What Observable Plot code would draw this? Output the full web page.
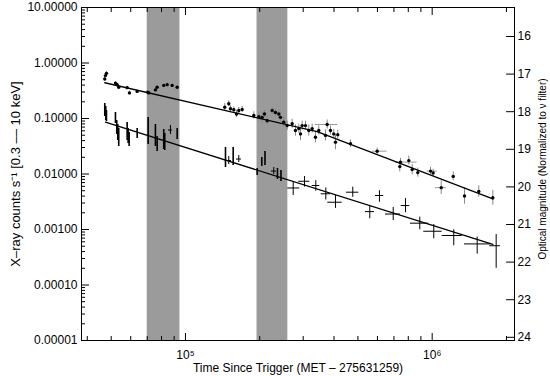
<!DOCTYPE html>
<html><head><meta charset="utf-8">
<script src="https://cdn.jsdelivr.net/npm/d3@7"></script>
<script src="https://cdn.jsdelivr.net/npm/@observablehq/plot@0.6"></script>
<style>body{margin:0;background:#fff}</style>
</head><body>
<script>
// ---- Data ----
// Gaps (shaded bands), seconds since trigger
const bandStart = [70000, 195000];
const bandEnd = [95000, 260000];

// X-ray light curve (counts/s, 0.3-10 keV)
const xrayTime = [47090, 47530, 47840, 52030, 52660, 53160, 53650, 58030, 58570, 59120, 63720, 70620, 75560, 76770, 81660, 82430, 86930, 92550, 145300, 149800, 156100, 164500, 195300, 203900, 210100, 228000, 236000, 243800, 273300, 303700, 337500, 370600, 405500, 476600, 558500, 611400, 695100, 779700, 890800, 1015000, 1223000, 1522000, 1817000];
const xrayTimeLo = [null, null, null, null, null, null, null, null, null, null, null, null, null, null, null, null, 85330, null, null, 146600, null, 161000, null, null, null, 223200, null, null, 259800, 287900, 326300, 354900, 377500, 449500, 536500, 589000, 646600, 748900, 816600, 924600, 1098000, 1352000, 1712000];
const xrayTimeHi = [null, null, null, null, null, null, null, null, null, null, null, null, null, null, null, null, 88580, null, null, 153600, null, 168700, null, null, null, 233800, null, null, 290600, 319100, 350300, 387100, 431800, 504000, 583500, 636400, 744100, 811500, 968800, 1098000, 1323000, 1723000, 1892000];
const xrayRate = [0.145, 0.123, 0.113, 0.104, 0.0688, 0.0559, 0.0455, 0.0583, 0.0474, 0.0418, 0.0537, 0.0608, 0.0494, 0.0354, 0.0418, 0.0385, 0.0620, 0.0526, 0.0198, 0.0175, 0.0207, 0.0186, 0.0109, 0.0164, 0.0190, 0.0113, 0.0102, 0.0094, 0.0056, 0.0074, 0.0062, 0.0044, 0.0031, 0.0047, 0.0021, 0.0041, 0.0019, 0.0027, 0.00130, 0.00093, 0.00078, 0.00055, 0.00051];
const xrayRateLo = [0.1086, 0.0920, 0.0883, 0.0813, 0.0515, 0.0401, 0.0313, 0.0401, 0.0354, 0.0313, 0.0436, 0.0340, 0.0313, 0.0254, 0.0276, 0.0265, 0.0515, 0.0418, 0.0131, 0.0148, 0.0142, 0.0161, 0.0094, 0.0137, 0.0142, 0.0098, 0.0080, 0.0073, 0.0041, 0.0058, 0.0049, 0.0034, 0.0024, 0.0038, 0.00156, 0.0031, 0.00145, 0.0020, 0.00099, 0.00068, 0.00051, 0.00036, 0.00020];
const xrayRateHi = [0.1863, 0.1645, 0.1393, 0.1282, 0.0920, 0.0780, 0.0660, 0.0847, 0.0660, 0.0559, 0.0660, 0.1042, 0.0780, 0.0474, 0.0634, 0.0537, 0.0748, 0.0660, 0.0300, 0.0207, 0.0300, 0.0215, 0.0126, 0.0198, 0.0254, 0.0131, 0.0126, 0.0116, 0.0071, 0.0090, 0.0076, 0.0056, 0.0041, 0.0058, 0.0027, 0.0050, 0.0025, 0.0036, 0.00167, 0.00123, 0.00099, 0.00073, 0.00081];

// X-ray power-law fit
const xrayFitTime = [47390, 1761000];
const xrayFitRate = [0.0858, 0.000537];

// Optical light curve (magnitudes, normalized to v filter)
const optTime = [47090, 47390, 47840, 52030, 52850, 53650, 58030, 59290, 63720, 70360, 71010, 75560, 76770, 81660, 84300, 88330, 92550, 144300, 149800, 152200, 157000, 161000, 164500, 169800, 189200, 198200, 204600, 209100, 214400, 224600, 231600, 238900, 242700, 250300, 258400, 270700, 279200, 288000, 292600, 297200, 306500, 316100, 326300, 336500, 347000, 369400, 375300, 387100, 399200, 405500, 414300, 466600, 598500, 739000, 743900, 803900, 829800, 874300, 984200, 1009000, 1088000, 1217000, 1352000, 1545000, 1761000];
const optMag = [17.13, 17.04, 16.98, 17.24, 17.28, 17.35, 17.36, 17.50, 17.46, 17.48, 17.50, 17.42, 17.35, 17.30, 17.28, 17.30, 17.35, 17.88, 17.79, 17.92, 17.95, 18.06, 17.97, 17.94, 18.10, 18.13, 18.15, 18.06, 18.24, 17.97, 18.02, 18.06, 18.15, 18.28, 18.37, 18.32, 18.50, 18.45, 18.59, 18.37, 18.37, 18.50, 18.45, 18.68, 18.50, 18.63, 18.34, 18.50, 18.59, 18.81, 18.61, 18.85, 19.05, 19.46, 19.34, 19.30, 19.54, 19.62, 19.58, 19.63, 20.02, 19.72, 20.24, 20.12, 20.29];
const optMagErr = [0.05, 0.05, 0.05, 0.04, 0.04, 0.04, 0.04, 0.05, 0.04, 0.04, 0.04, 0.04, 0.04, 0.04, 0.04, 0.04, 0.04, 0.10, 0.08, 0.08, 0.08, 0.10, 0.08, 0.08, 0.10, 0.12, 0.15, 0.10, 0.12, 0.10, 0.10, 0.10, 0.12, 0.14, 0.12, 0.12, 0.15, 0.12, 0.18, 0.12, 0.12, 0.15, 0.12, 0.15, 0.12, 0.15, 0.12, 0.12, 0.12, 0.20, 0.12, 0.10, 0.08, 0.14, 0.10, 0.12, 0.14, 0.12, 0.10, 0.10, 0.18, 0.12, 0.22, 0.15, 0.20];
// Points with time bins (index into optical arrays)
const optBinIndex = [46, 52, 54, 58, 60];
const optBinLo = [336500, 571400, 710000, 954300, 1031000];
const optBinHi = [414300, 657000, 869400, 1048000, 1143000];

// Optical broken power-law fit
const optFitTime = [47090, 341900, 1761000];
const optFitMag = [17.23, 18.53, 20.32];

// Axes
const yTicks = [10, 1, 0.1, 0.01, 0.001, 0.0001, 0.00001];
const yTickLabels = ["10.00000", "1.00000", "0.10000", "0.01000", "0.00100", "0.00010", "0.00001"];
const xTicks = [1e5, 1e6];
const xTickLabels = ["10\u2075", "10\u2076"];
const magTicks = [16, 17, 18, 19, 20, 21, 22, 23, 24];
const magTickLabels = ["16", "17", "18", "19", "20", "21", "22", "23", "24"];

const xTitle = "Time Since Trigger (MET \u2013 275631259)";
const yTitle = "X\u2013ray counts s\u207B\u00B9 [0.3 \u2013\u2013 10 keV]";
const y2Title = "Optical magnitude (Normalized to \u03BD filter)";

// ---- Alignment of the magnitude axis with the count-rate axis ----
const MAG_REF = 16, LOGRATE_AT_REF = 0.4775, DEX_PER_MAG = 0.6775;
const magToRate = m => Math.pow(10, LOGRATE_AT_REF - DEX_PER_MAG * (m - MAG_REF));

// ---- Build ----
const xDomain = [37900, 2156000];
const yDomain = [1e-5, 10];

const bands = bandStart.map((s, i) => ({s, e: bandEnd[i]}));
const xray = xrayTime.map((t, i) => ({t, rate: xrayRate[i], lo: xrayRateLo[i], hi: xrayRateHi[i], tlo: xrayTimeLo[i], thi: xrayTimeHi[i]}));
const xrayBinned = xray.filter(d => d.tlo != null);
const xrayBars = xray.filter(d => d.tlo == null);
const xrayFit = xrayFitTime.map((t, i) => ({t, r: xrayFitRate[i]}));
const opt = optTime.map((t, i) => ({t, m: optMag[i], e: optMagErr[i]}));
const optBins = optBinIndex.map((k, i) => ({m: optMag[k], lo: optBinLo[i], hi: optBinHi[i]}));
const optFit = optFitTime.map((t, i) => ({t, m: optFitMag[i]}));

const yLabel = new Map(yTicks.map((v, i) => [v, yTickLabels[i]]));
const xLabel = new Map(xTicks.map((v, i) => [v, xTickLabels[i]]));
const magAxis = magTicks.map((m, i) => ({r: magToRate(m), label: magTickLabels[i]}));

const yMinor = [];
for (let e = -5; e < 1; e++) for (let k = 2; k <= 9; k++) yMinor.push(k * Math.pow(10, e));
const xMinor = [];
for (let e = 4; e <= 6; e++) for (let k = 2; k <= 9; k++) { const v = k * Math.pow(10, e); if (v > xDomain[0] && v < xDomain[1]) xMinor.push(v); }

const tickShape = {draw(context, l) { context.moveTo(0, 0); context.lineTo(0, -l); }};

const chart = Plot.plot({
  width: 550, height: 376,
  marginLeft: 81, marginRight: 36, marginTop: 7, marginBottom: 36,
  style: {fontFamily: "'Liberation Sans', Arial, sans-serif", fontSize: "12px", background: "#fff", color: "#000"},
  x: {type: "log", domain: xDomain},
  y: {type: "log", domain: yDomain},
  marks: [
    Plot.rect(bands, {x1: "s", x2: "e", y1: yDomain[0], y2: yDomain[1], fill: "#9b9b9b"}),
    // optical error bars
    Plot.ruleX(opt, {x: "t", y1: d => magToRate(d.m + d.e), y2: d => magToRate(d.m - d.e), stroke: "#888", strokeWidth: 1}),
    Plot.ruleY(optBins, {y: d => magToRate(d.m), x1: "lo", x2: "hi", stroke: "#999", strokeWidth: 1}),
    // fits
    Plot.line(optFit, {x: "t", y: d => magToRate(d.m), stroke: "#000", strokeWidth: 1.3}),
    Plot.line(xrayFit, {x: "t", y: "r", stroke: "#000", strokeWidth: 1.3}),
    // optical points
    Plot.dot(opt, {x: "t", y: d => magToRate(d.m), r: 1.7, fill: "#000", stroke: null}),
    // x-ray
    Plot.ruleX(xrayBars, {x: "t", y1: "lo", y2: "hi", stroke: "#000", strokeWidth: 1.6}),
    Plot.ruleX(xrayBinned, {x: "t", y1: "lo", y2: "hi", stroke: "#000", strokeWidth: 1}),
    Plot.ruleY(xrayBinned, {y: "rate", x1: "tlo", x2: "thi", stroke: "#000", strokeWidth: 1}),
    Plot.frame({stroke: "#000", strokeWidth: 1}),
    // axes
    Plot.axisY({anchor: "left", ticks: yTicks, tickSize: -8, tickPadding: 12, tickFormat: d => yLabel.get(d), label: null}),
    Plot.axisY({anchor: "left", ticks: yMinor, tickSize: -4, tickFormat: () => "", label: null}),
    Plot.axisX({anchor: "bottom", ticks: xTicks, tickSize: -7, tickPadding: 17, tickFormat: d => xLabel.get(d), label: null}),
    Plot.axisX({anchor: "bottom", ticks: xMinor, tickSize: -4, tickFormat: () => "", label: null}),
    Plot.axisX({anchor: "top", ticks: xTicks, tickSize: -7, tickFormat: () => "", label: null}),
    Plot.axisX({anchor: "top", ticks: xMinor, tickSize: -4, tickFormat: () => "", label: null}),
    // right (magnitude) axis
    Plot.vector(magAxis, {y: "r", frameAnchor: "right", length: 8, rotate: -90, anchor: "start", shape: tickShape, stroke: "#000", strokeWidth: 1}),
    Plot.text(magAxis, {y: "r", frameAnchor: "right", dx: 3, textAnchor: "start", lineAnchor: "middle", text: "label", fill: "#000"}),
    // titles
    Plot.text([yTitle], {frameAnchor: "left", dx: -66, rotate: -90, textAnchor: "middle", lineAnchor: "middle", text: d => d, fill: "#000", fontSize: 13}),
    Plot.text([y2Title], {frameAnchor: "right", dx: 28, dy: -5, rotate: -90, textAnchor: "middle", lineAnchor: "middle", text: d => d, fill: "#000", fontSize: 10}),
    Plot.text([xTitle], {frameAnchor: "bottom", dy: 28, textAnchor: "middle", lineAnchor: "middle", text: d => d, fill: "#000"})
  ]
});
document.body.appendChild(chart);
</script>
</body></html>
